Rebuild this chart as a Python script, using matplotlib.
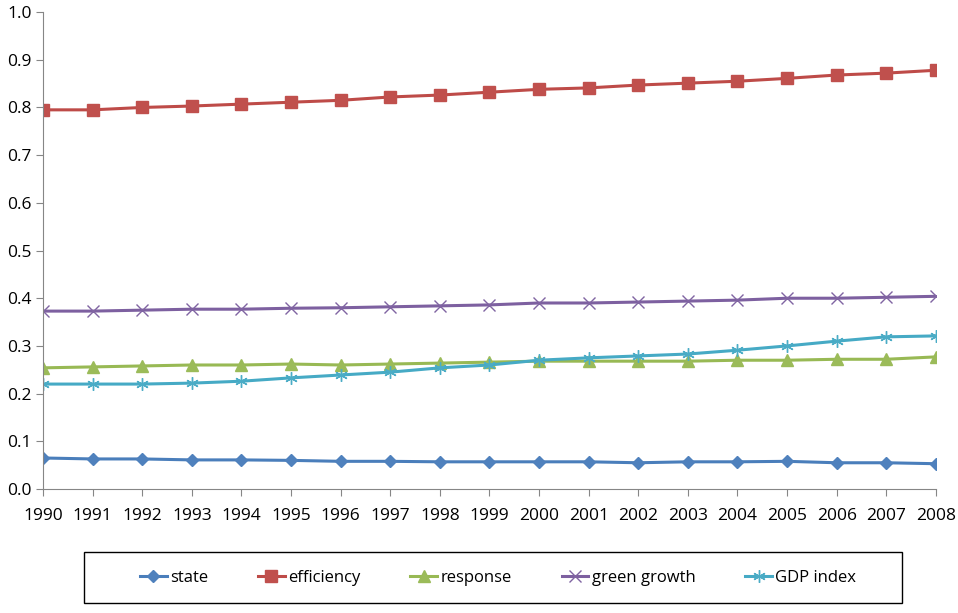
import matplotlib.pyplot as plt
from matplotlib.patches import Rectangle

# values
years = list(range(1990, 2009))
state = [0.065, 0.063, 0.063, 0.061, 0.061, 0.060, 0.058, 0.058, 0.057, 0.057,
         0.057, 0.057, 0.055, 0.057, 0.057, 0.058, 0.055, 0.055, 0.053]
efficiency = [0.795, 0.795, 0.800, 0.803, 0.807, 0.811, 0.815, 0.822, 0.826, 0.832,
              0.838, 0.841, 0.847, 0.851, 0.855, 0.861, 0.868, 0.872, 0.878]
response = [0.254, 0.256, 0.258, 0.260, 0.260, 0.262, 0.260, 0.262, 0.264, 0.266,
            0.268, 0.268, 0.268, 0.268, 0.270, 0.270, 0.272, 0.272, 0.277]
green_growth = [0.373, 0.373, 0.375, 0.377, 0.377, 0.379, 0.380, 0.382, 0.384, 0.386,
                0.390, 0.390, 0.392, 0.394, 0.396, 0.400, 0.400, 0.402, 0.404]
gdp_index = [0.220, 0.220, 0.220, 0.222, 0.226, 0.233, 0.239, 0.245, 0.254, 0.260,
             0.270, 0.275, 0.279, 0.283, 0.291, 0.300, 0.310, 0.319, 0.321]
y_ticks = [0.0, 0.1, 0.2, 0.3, 0.4, 0.5, 0.6, 0.7, 0.8, 0.9, 1.0]

plt.rcParams['font.family'] = ['Open Sans', 'DejaVu Sans']

fig = plt.figure(figsize=(9.58, 6.13), dpi=100)
ax = fig.add_axes([0.0449, 0.2023, 0.932, 0.778])

ax.plot(years, state, color='#4A7EBB', lw=2.2, marker='D', ms=6,
        mfc='#4F81BD', mec='#4F81BD', label='state')
ax.plot(years, efficiency, color='#BE4B48', lw=2.2, marker='s', ms=8,
        mfc='#C0504D', mec='#C0504D', label='efficiency')
ax.plot(years, response, color='#98B954', lw=2.2, marker='^', ms=8,
        mfc='#9BBB59', mec='#9BBB59', label='response')
ax.plot(years, green_growth, color='#7D60A0', lw=2.2, marker='x', ms=8,
        mew=1, mec='#8064A2', label='green growth')
ax.plot(years, gdp_index, color='#46AAC5', lw=2.2, marker=(6, 2, 0), ms=9,
        mew=1, mec='#4BACC6', label='GDP index')

ax.set_xlim(1990, 2008)
ax.set_ylim(0, 1.0)
ax.set_xticks(years)
ax.set_xticklabels([str(y) for y in years])
ax.set_yticks(y_ticks)
ax.set_yticklabels(['%.1f' % v for v in y_ticks])
ax.tick_params(axis='both', direction='out', length=5, color='#868686',
               labelsize=12.5)
ax.tick_params(axis='x', pad=9)
ax.tick_params(axis='y', pad=3)
for side in ['top', 'right']:
    ax.spines[side].set_visible(False)
for side in ['left', 'bottom']:
    ax.spines[side].set_color('#868686')

# legend box drawn separately so the entries can sit inset from the frame
fig.patches.append(Rectangle((0.0877, 0.0163), 0.854, 0.083, transform=fig.transFigure,
                             fill=False, edgecolor='black', lw=1.0))
leg = fig.legend(loc='center', ncol=5, bbox_to_anchor=(0.146, 0.0163, 0.748, 0.083),
                 mode='expand', frameon=False, fontsize=12, handlelength=1.6,
                 handletextpad=0.2, borderpad=0, borderaxespad=0)

fig.savefig('out.png', dpi=100)
